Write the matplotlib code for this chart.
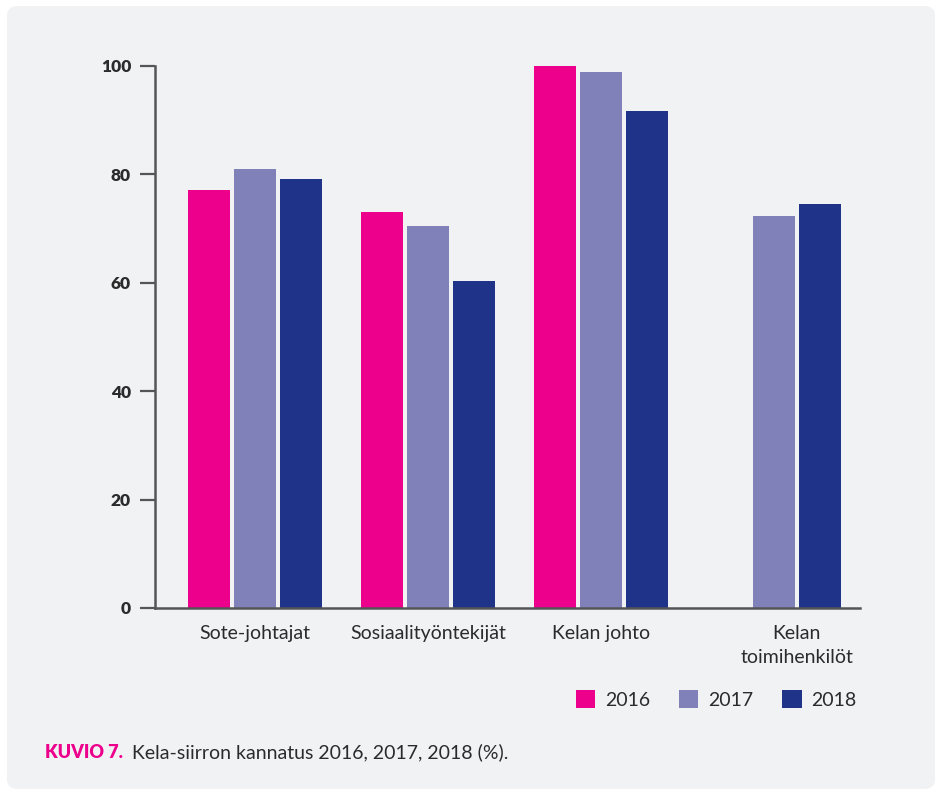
import numpy as np
import matplotlib.pyplot as plt
from matplotlib.patches import FancyBboxPatch

plt.rcParams['font.family'] = ['Lato', 'DejaVu Sans']

# data
categories = ['Sote-johtajat', 'Sosiaalityöntekijät', 'Kelan johto', 'Kelan\ntoimihenkilöt']
years = ['2016', '2017', '2018']
v2016 = [77.1, 73.1, 100.0, np.nan]
v2017 = [81.0, 70.5, 98.9, 72.3]
v2018 = [79.2, 60.3, 91.7, 74.5]
colors = ['#ec008c', '#8181b9', '#1f3489']

bg = '#f1f2f4'
txt = '#2b2b2b'

fig = plt.figure(figsize=(9.4, 7.9), dpi=100)
fig.patch.set_facecolor('white')

# rounded gray card behind everything
card = FancyBboxPatch((7/940, 1/790), 928/940, 783/790,
                      boxstyle='round,pad=0,rounding_size=0.012',
                      transform=fig.transFigure, facecolor=bg, edgecolor='none', zorder=-5)
fig.patches.append(card)

ax = fig.add_axes([0.1646, 0.2304, 0.9149 - 0.1646, 0.9165 - 0.2304])
ax.patch.set_alpha(0)

x = np.arange(len(categories))
w = 0.243
step = 0.266
series = [v2016, v2017, v2018]
for i, vals in enumerate(series):
    ax.bar(x + (i - 1) * step, vals, width=w, color=colors[i], label=years[i], zorder=2)

ax.set_ylim(0, 100)
ax.set_xlim(-0.58, 3.50)
ax.set_yticks([0, 20, 40, 60, 80, 100])
ax.set_yticklabels(['0', '20', '40', '60', '80', '100'], fontweight='heavy', fontsize=12.5, color=txt)

# last group has no 2016 bar, so its label sits under the two bars
tick_pos = list(x[:3]) + [x[3] + step / 2]
ax.set_xticks(tick_pos)
ax.set_xticklabels(categories, fontsize=14, color=txt, linespacing=1.5)
ax.tick_params(axis='x', length=0, pad=12)
ax.tick_params(axis='y', length=11, width=1.6, color='#555555', pad=6)

for s in ['top', 'right']:
    ax.spines[s].set_visible(False)
for s in ['left', 'bottom']:
    ax.spines[s].set_color('#555555')
    ax.spines[s].set_linewidth(1.8)

leg = fig.legend(loc='upper left', bbox_to_anchor=(0.604, 0.136), ncol=3, frameon=False,
                 fontsize=14, handlelength=1.0, handleheight=1.0, handletextpad=0.5,
                 columnspacing=1.5, borderaxespad=0)
for t in leg.get_texts():
    t.set_color(txt)

# caption
fig.text(45/940, 1 - 752/790, 'KUVIO 7.', color='#ec008c', fontweight='heavy',
         fontsize=13, va='center', ha='left')
fig.text(132/940, 1 - 752/790, 'Kela-siirron kannatus 2016, 2017, 2018 (%).', color=txt,
         fontsize=14, va='center', ha='left')

fig.savefig('out.png', dpi=100, facecolor='white')
